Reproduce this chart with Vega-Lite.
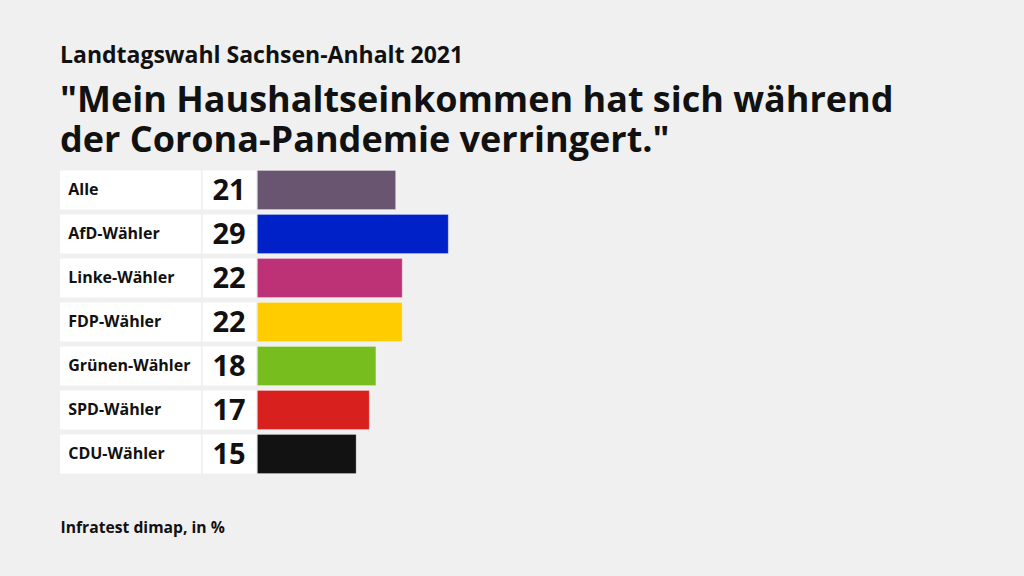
{
  "$schema": "https://vega.github.io/schema/vega-lite/v6.json",
  "width": 941,
  "height": 308,
  "autosize": {"type": "none"},
  "padding": {"left": 60, "top": 168, "right": 23, "bottom": 100},
  "background": "#f0f0f0",
  "config": {"view": {"stroke": null}, "font": "Open Sans"},
  "title": {
    "text": "Landtagswahl Sachsen-Anhalt 2021",
    "subtitle": ["\"Mein Haushaltseinkommen hat sich während", "der Corona-Pandemie verringert.\""],
    "anchor": "start",
    "frame": "group",
    "font": "Open Sans",
    "fontSize": 23,
    "fontWeight": "bold",
    "color": "#111111",
    "subtitleFont": "Open Sans",
    "subtitleFontSize": 36,
    "subtitleFontWeight": "bold",
    "subtitleColor": "#111111",
    "subtitleLineHeight": 40,
    "subtitlePadding": 16,
    "offset": 9
  },
  "data": {
    "values": [
      {"group": "Alle", "value": 21},
      {"group": "AfD-Wähler", "value": 29},
      {"group": "Linke-Wähler", "value": 22},
      {"group": "FDP-Wähler", "value": 22},
      {"group": "Grünen-Wähler", "value": 18},
      {"group": "SPD-Wähler", "value": 17},
      {"group": "CDU-Wähler", "value": 15}
    ]
  },
  "encoding": {
    "y": {
      "field": "group",
      "type": "nominal",
      "sort": null,
      "scale": {"paddingInner": 0.1136, "paddingOuter": 0.0568},
      "axis": null
    }
  },
  "layer": [
    {
      "mark": {"type": "bar", "color": "white"},
      "encoding": {
        "x": {"datum": -30, "type": "quantitative", "scale": {"domain": [-30, 113], "nice": false, "zero": false},
          "axis": {"title": "Infratest dimap, in %", "labels": false, "ticks": false, "domain": false, "grid": false,
            "titleAnchor": "start", "titleAlign": "left", "titleX": 0, "titleY": 51, "titleBaseline": "middle",
            "titleFont": "Open Sans", "titleFontSize": 15.7, "titleFontWeight": "bold", "titleColor": "#111111"}},
        "x2": {"datum": -8.6}
      }
    },
    {
      "mark": {"type": "bar", "color": "white"},
      "encoding": {
        "x": {"datum": -8.3, "type": "quantitative"},
        "x2": {"datum": -0.2}
      }
    },
    {
      "mark": {"type": "bar", "strokeWidth": 1, "strokeOpacity": 0.25, "stroke": "white"},
      "encoding": {
        "x": {"field": "value", "type": "quantitative"},
        "x2": {"datum": 0},
        "color": {
          "field": "group",
          "type": "nominal",
          "scale": {
            "domain": ["Alle", "AfD-Wähler", "Linke-Wähler", "FDP-Wähler", "Grünen-Wähler", "SPD-Wähler", "CDU-Wähler"],
            "range": ["#6a5570", "#0021c7", "#bd3176", "#ffcc00", "#78bd1e", "#d8201e", "#121212"]
          },
          "legend": null
        }
      }
    },
    {
      "mark": {"type": "text", "align": "left", "baseline": "middle", "font": "Open Sans", "fontSize": 16, "fontWeight": "bold", "color": "#111111"},
      "encoding": {
        "x": {"datum": -28.75, "type": "quantitative"},
        "text": {"field": "group"}
      }
    },
    {
      "mark": {"type": "text", "align": "center", "baseline": "middle", "font": "Open Sans", "fontSize": 29, "fontWeight": "bold", "color": "#111111", "dy": 1},
      "encoding": {
        "x": {"datum": -4.3, "type": "quantitative"},
        "text": {"field": "value"}
      }
    }
  ]
}
